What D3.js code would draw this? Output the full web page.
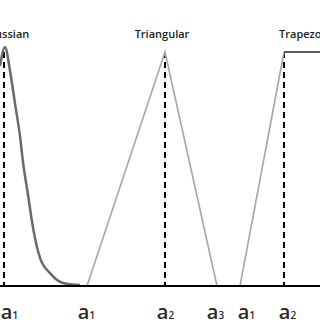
<!DOCTYPE html>
<html lang="en">
<head>
  <meta charset="UTF-8">
  <title>Membership functions</title>
  <style>
    body { margin: 0; background: #fff; }
    svg { display: block; }
  </style>
</head>
<body>
  <svg width="320" height="320"></svg>
  <script src="https://d3js.org/d3.v7.min.js"></script>
  <script>
    // gaussian curve: x position, membership
    var gaussX = [0, 5, 10, 15, 20, 23, 28, 33, 40, 50, 63, 80];
    var gaussY = [0.94, 1.02, 0.92, 0.78, 0.64, 0.53, 0.39, 0.25, 0.12, 0.055, 0.013, 0.004];

    var triX = [87, 165, 217];
    var triY = [0, 1, 0];

    var trapX = [240, 284, 320];
    var trapY = [0, 1, 1];

    // dashed guides at the peaks
    var guideX = [4, 165, 284];

    var titles = ['Gaussian', 'Triangular', 'Trapezoidal'];
    var titleX = [5, 162, 310];

    var tickX = [9, 86, 165, 215, 246, 287];
    var tickSub = ['1', '1', '2', '3', '1', '2'];

    var width = 320, height = 320;
    var yBase = 286, yTop = 52;

    var x = d3.scaleLinear().domain([0, 320]).range([0, width]);
    var y = d3.scaleLinear().domain([0, 1]).range([yBase, yTop]);

    var svg = d3.select('svg');

    var line = d3.line()
      .x(d => x(d[0]))
      .y(d => y(d[1]));

    // dashed verticals
    svg.selectAll('.guide')
      .data(guideX)
      .enter().append('line')
      .attr('class', 'guide')
      .attr('x1', d => x(d)).attr('x2', d => x(d))
      .attr('y1', y(1)).attr('y2', yBase)
      .style('stroke', '#000')
      .style('stroke-width', 2)
      .style('stroke-dasharray', '6,4');

    // gaussian
    svg.append('path')
      .attr('d', line.curve(d3.curveMonotoneX)(d3.zip(gaussX, gaussY)))
      .style('fill', 'none')
      .style('stroke', '#6a6a6a')
      .style('stroke-width', 2.5);

    line.curve(d3.curveLinear);

    // triangular
    svg.append('path')
      .attr('d', line(d3.zip(triX, triY)))
      .style('fill', 'none')
      .style('stroke', '#a6a6a6')
      .style('stroke-width', 1.6);

    // trapezoidal: ramp light, top darker
    var trap = d3.zip(trapX, trapY);
    svg.append('path')
      .attr('d', line(trap.slice(0, 2)))
      .style('fill', 'none')
      .style('stroke', '#a6a6a6')
      .style('stroke-width', 1.6);
    svg.append('path')
      .attr('d', line(trap.slice(1)))
      .style('fill', 'none')
      .style('stroke', '#5a5a5a')
      .style('stroke-width', 1.8);

    // baseline
    svg.append('line')
      .attr('x1', 0).attr('x2', width)
      .attr('y1', yBase).attr('y2', yBase)
      .style('stroke', '#000')
      .style('stroke-width', 2);

    // titles
    svg.selectAll('.title')
      .data(titles)
      .enter().append('text')
      .attr('class', 'title')
      .attr('x', (d, i) => x(titleX[i]))
      .attr('y', 38)
      .attr('text-anchor', 'middle')
      .style('font-family', '"Open Sans", sans-serif')
      .style('font-weight', 600)
      .style('font-size', '11px')
      .style('fill', '#222')
      .text(d => d);

    // tick labels a with subscripts
    var xAxis = d3.axisBottom(x)
      .tickValues(tickX)
      .tickSize(0)
      .tickFormat('');
    var ax = svg.append('g')
      .attr('transform', 'translate(0,' + 300 + ')')
      .call(xAxis);
    ax.select('.domain').remove();
    ax.selectAll('.tick text')
      .attr('y', 19)
      .attr('dy', 0)
      .style('font-family', '"Open Sans", sans-serif')
      .style('font-size', '20px')
      .style('font-weight', 600)
      .style('fill', '#2a2a2a')
      .each(function (d, i) {
        var t = d3.select(this);
        t.append('tspan').text('a');
        t.append('tspan')
          .attr('dy', 0)
          .style('font-size', '10px')
          .text(tickSub[i]);
      });
  </script>
</body>
</html>
